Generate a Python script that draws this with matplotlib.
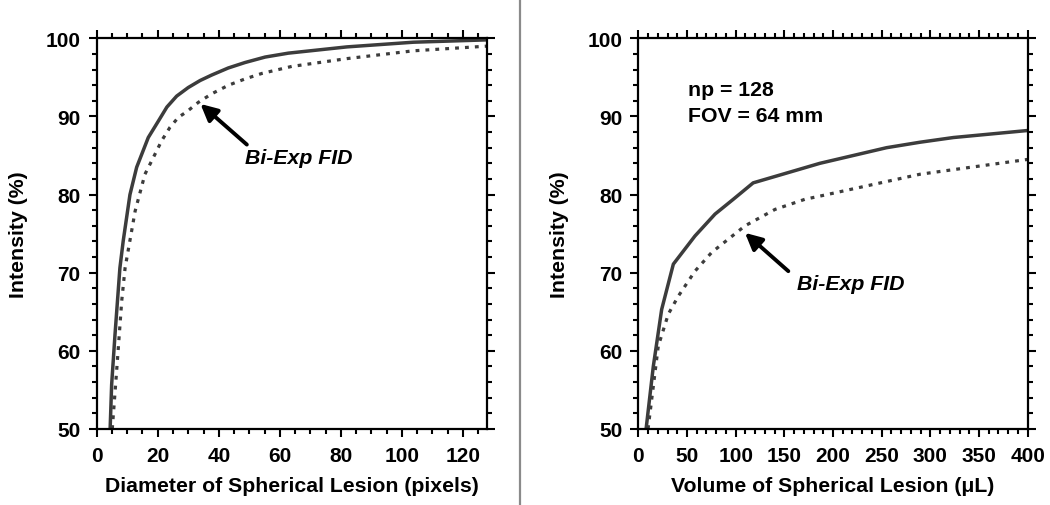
import matplotlib
matplotlib.use("Agg")
import matplotlib.pyplot as plt
from matplotlib.ticker import MultipleLocator
from matplotlib.lines import Line2D

plt.rcParams['font.family'] = ['Liberation Sans', 'DejaVu Sans']
plt.rcParams['font.weight'] = 'bold'

# ---- data ----
diam_solid_x = [4.4, 4.9, 6.0, 7.6, 8.7, 10.9, 13.1, 16.9, 20.2, 23, 26.2, 30, 33.9, 37.7,
                43.1, 48.6, 55.2, 62.8, 82, 103.8, 128]
diam_solid_y = [50, 55.7, 62.1, 70.6, 74.1, 80.0, 83.5, 87.3, 89.4, 91.2, 92.6, 93.7, 94.6, 95.3,
                96.2, 96.9, 97.6, 98.1, 98.9, 99.5, 99.8]
diam_dot_x = [5.1, 6.6, 8.2, 9.3, 12.6, 15.8, 18, 21.3, 24, 26.8, 29.5, 33.3, 37.7, 43.2,
              48.6, 54.1, 63.9, 82, 103.8, 128]
diam_dot_y = [50, 57.8, 66.4, 70.6, 77.9, 82.6, 84.3, 86.9, 88.6, 89.9, 90.6, 91.8, 92.9, 94.0,
              94.8, 95.5, 96.4, 97.4, 98.4, 99.0]

vol_solid_x = [8, 15.4, 24, 36, 58.2, 78.8, 97.6, 118, 186.5, 255, 289.4, 323.6, 400]
vol_solid_y = [50, 58.0, 65.3, 71.1, 74.7, 77.5, 79.4, 81.5, 84.0, 86.0, 86.7, 87.3, 88.2]
vol_dot_x = [10, 20.5, 30.8, 41.1, 58.2, 75.4, 109.6, 140.4, 171.2, 186.4, 289.2, 400]
vol_dot_y = [50, 60.6, 64.7, 67.0, 70.2, 72.6, 76.0, 78.1, 79.4, 79.8, 82.6, 84.5]

left_xticks = [0, 20, 40, 60, 80, 100, 120]
right_xticks = [0, 50, 100, 150, 200, 250, 300, 350, 400]
yticks = [50, 60, 70, 80, 90, 100]

left_xlabel = "Diameter of Spherical Lesion (pixels)"
right_xlabel = "Volume of Spherical Lesion (\u03bcL)"
ylabel = "Intensity (%)"
annot = "Bi-Exp FID"

LINEC = '#3c3c3c'
TICKFS = 15
LABFS = 15.3
W, H = 1050, 506
fig = plt.figure(figsize=(W / 100, H / 100), dpi=100)

ax1 = fig.add_axes([96.7 / W, 1 - 430 / H, (487.3 - 96.7) / W, (430 - 39.3) / H])
ax2 = fig.add_axes([638.3 / W, 1 - 430 / H, (1027.7 - 638.3) / W, (430 - 39.3) / H])


def style(ax, xmax, xmin_step, xticks):
    ax.set_xlim(0, xmax)
    ax.set_ylim(50, 100)
    ax.set_xticks(xticks)
    ax.set_yticks(yticks)
    ax.xaxis.set_minor_locator(MultipleLocator(xmin_step))
    ax.yaxis.set_minor_locator(MultipleLocator(2))
    ax.tick_params(which='both', direction='out', top=True, right=True,
                   width=1.5, colors='black', labelsize=TICKFS)
    ax.tick_params(which='major', length=5.5)
    ax.tick_params(which='minor', length=3.5)
    ax.tick_params(axis='x', which='major', pad=7)
    ax.tick_params(axis='y', which='major', pad=6)
    for lab in ax.get_xticklabels() + ax.get_yticklabels():
        lab.set_fontweight('bold')
    for sp in ax.spines.values():
        sp.set_linewidth(1.6)
        sp.set_color('black')
    ax.set_ylabel(ylabel, fontsize=LABFS, fontweight='bold', labelpad=13)


style(ax1, 128, 5, left_xticks)
style(ax2, 400, 10, right_xticks)

ax1.plot(diam_solid_x, diam_solid_y, color=LINEC, lw=2.5, solid_joinstyle='round')
ax1.plot(diam_dot_x, diam_dot_y, color=LINEC, lw=2.3, linestyle=(0, (1.2, 1.9)))
ax2.plot(vol_solid_x, vol_solid_y, color=LINEC, lw=2.5, solid_joinstyle='round')
ax2.plot(vol_dot_x, vol_dot_y, color=LINEC, lw=2.3, linestyle=(0, (1.2, 1.9)))

ax1.set_xlabel(left_xlabel, fontsize=LABFS, fontweight='bold', labelpad=8)
ax2.set_xlabel(right_xlabel, fontsize=LABFS, fontweight='bold', labelpad=8)

arrowprops = dict(arrowstyle='-|>,head_length=1.0,head_width=0.5', color='black', lw=2.8,
                  shrinkA=0, shrinkB=0)
ax1.annotate('', xy=(34.0, 91.6), xytext=(49.2, 86.4), arrowprops=arrowprops)
ax1.text(48.5, 84.8, annot, fontsize=LABFS, fontweight='bold', fontstyle='italic', va='center', ha='left')
ax2.annotate('', xy=(109.6, 75.1), xytext=(154.1, 70.2), arrowprops=arrowprops)
ax2.text(162.8, 68.6, annot, fontsize=LABFS, fontweight='bold', fontstyle='italic', va='center', ha='left')

ax2.text(51.4, 93.4, "np = 128", fontsize=LABFS, fontweight='bold', va='center', ha='left')
ax2.text(51.4, 90.1, "FOV = 64 mm", fontsize=LABFS, fontweight='bold', va='center', ha='left')

fig.add_artist(Line2D([519.5 / W, 519.5 / W], [0, 1], transform=fig.transFigure,
                      color='#8a8a8a', lw=1.6))

fig.savefig('out.png', dpi=100)
